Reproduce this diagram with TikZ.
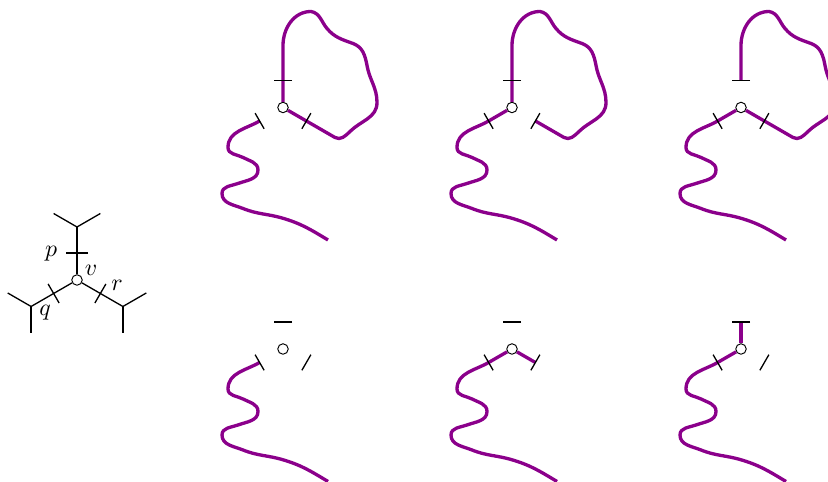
\documentclass[tikz,border=0pt]{standalone}
\usetikzlibrary{positioning}

\definecolor{strandcol}{RGB}{139,0,139}

% strand paths, relative to the vertex of a panel
\newcommand{\tailpath}{(210:27) to[out=210,in=90] (-55,-40) to[out=270,in=152] (-40,-50) to[out=-28,in=90] (-25,-62.5) to[out=270,in=20] (-45,-76) to[out=200,in=90] (-61,-86) to[out=270,in=158] (-40,-101) to[out=-22,in=164] (-1,-110.5) to[out=-16,in=149] (45,-132.5)}
\newcommand{\looppath}{(90:27) -- (0,62) to[out=90,in=180] (28,96) to[out=-10,in=130] (44,79) to[out=-50,in=160] (70,64) to[out=-20,in=100] (84,42) to[out=-80,in=90] (94,5) to[out=-90,in=45] (67,-24) to[out=225,in=-30] (52,-30) -- (330:27)}

\begin{document}
\begin{tikzpicture}[
    x=0.42pt, y=0.42pt,
    vtx/.style={circle, draw, fill=white, inner sep=0pt, minimum size=4.4pt, line width=0.4pt},
    strand/.style={strandcol, line width=1.4pt},
    tickmark/.style={black, line width=0.55pt},
    edge/.style={black, line width=0.55pt},
    lbl/.style={inner sep=0pt}
]
\useasboundingbox (0,0) rectangle (828,482);

% small tree with vertex v
\begin{scope}[shift={(77,202)}]
\node[vtx] (v0) at (0,0) {};
\foreach \a in {90,210,330} {
    \draw[edge] (v0) -- (\a:53);
    \draw[edge] (\a:53) -- +(\a+60:27);
    \draw[edge] (\a:53) -- +(\a-60:27);
    \draw[edge, rotate=\a] (27,-11) -- (27,11);
}
\node[lbl] (p) at (-26,26) {$p$};
\node[lbl] (v) at (14,10) {$v$};
\node[lbl] (q) at (-32,-33) {$q$};
\node[lbl] (r) at (40,-5) {$r$};
\end{scope}

% top row
\begin{scope}[shift={(283,374.5)}]
\node[vtx] (v1) at (0,0) {};
\draw[strand] (v1) -- \looppath -- (v1);
\draw[strand] \tailpath;
\foreach \a in {90,210,330} \draw[tickmark, rotate=\a] (27,-9) -- (27,9);
\end{scope}

\begin{scope}[shift={(512,374.5)}]
\node[vtx] (v2) at (0,0) {};
\draw[strand] (v2) -- \looppath;
\draw[strand] (v2) -- \tailpath;
\foreach \a in {90,210,330} \draw[tickmark, rotate=\a] (27,-9) -- (27,9);
\end{scope}

\begin{scope}[shift={(741,374.5)}]
\node[vtx] (v3) at (0,0) {};
\draw[strand] \looppath -- (v3);
\draw[strand] (v3) -- \tailpath;
\foreach \a in {90,210,330} \draw[tickmark, rotate=\a] (27,-9) -- (27,9);
\end{scope}

% bottom row
\begin{scope}[shift={(283,133)}]
\node[vtx] (v4) at (0,0) {};
\draw[strand] \tailpath;
\foreach \a in {90,210,330} \draw[tickmark, rotate=\a] (27,-9) -- (27,9);
\end{scope}

\begin{scope}[shift={(512,133)}]
\node[vtx] (v5) at (0,0) {};
\draw[strand] (v5) -- \tailpath;
\draw[strand] (v5) -- (330:27);
\foreach \a in {90,210,330} \draw[tickmark, rotate=\a] (27,-9) -- (27,9);
\end{scope}

\begin{scope}[shift={(741,133)}]
\node[vtx] (v6) at (0,0) {};
\draw[strand] (v6) -- \tailpath;
\draw[strand] (v6) -- (90:27);
\foreach \a in {90,210,330} \draw[tickmark, rotate=\a] (27,-9) -- (27,9);
\end{scope}

\end{tikzpicture}
\end{document}
